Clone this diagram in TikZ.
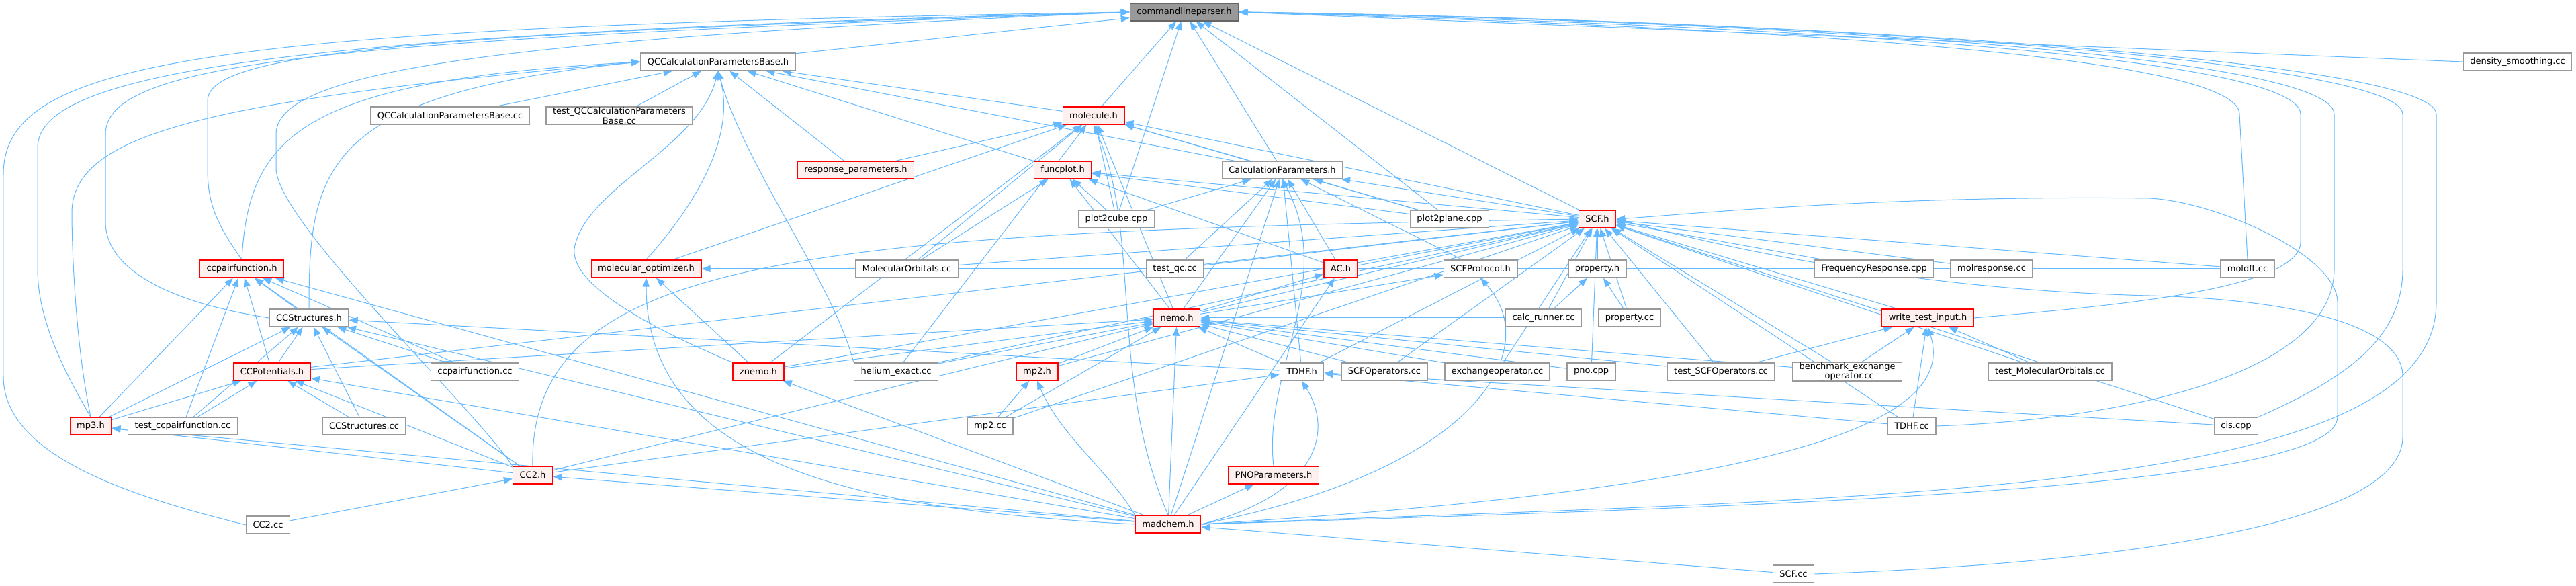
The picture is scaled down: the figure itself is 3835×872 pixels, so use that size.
\documentclass[tikz,border=0pt]{standalone}
\usepackage{fontspec}
\setmainfont{DejaVu Sans}
\usetikzlibrary{arrows.meta,backgrounds}
\definecolor{edgeblue}{HTML}{63B8FF}
\definecolor{hdrfill}{HTML}{FFF0F0}
\definecolor{boxgray}{HTML}{999999}
\definecolor{rootline}{HTML}{666666}

\begin{document}
\begin{tikzpicture}[x=0.1mm, y=-0.1mm,
    file/.style={draw=boxgray, fill=white, line width=0.14mm, inner xsep=1mm, inner ysep=0pt,
      minimum height=2.6mm, font=\fontsize{3.7}{4.2}\selectfont},
    hdr/.style={file, draw=red, fill=hdrfill},
    root/.style={file, draw=rootline, fill=boxgray},
    edge/.style={-{Triangle[length=1.3mm, width=1mm]}, draw=edgeblue, line width=0.1mm}
  ]
    \useasboundingbox (0,0) rectangle (3835,872);

    \node[root] (clp) at (1763,18) {commandlineparser.h};
    \node[file] (qcb) at (1069,92) {QCCalculationParametersBase.h};
    \node[file] (dens) at (3748,92) {density\_smoothing.cc};
    \node[file] (qcbcc) at (670,172) {QCCalculationParametersBase.cc};
    \node[file, align=center] (tqcb) at (922,172) {test\_QCCalculationParameters\\Base.cc};
    \node[hdr] (mol) at (1628,172) {molecule.h};
    \node[hdr] (resp) at (1274,253) {response\_parameters.h};
    \node[hdr] (fplot) at (1582,253) {funcplot.h};
    \node[file] (calc) at (1909,253) {CalculationParameters.h};
    \node[file] (p2c) at (1662,326) {plot2cube.cpp};
    \node[file] (p2p) at (2158,326) {plot2plane.cpp};
    \node[hdr] (scf) at (2378,326) {SCF.h};
    \node[hdr] (ccpf) at (360,400) {ccpairfunction.h};
    \node[hdr] (molopt) at (962,400) {molecular\_optimizer.h};
    \node[file] (moorb) at (1350,400) {MolecularOrbitals.cc};
    \node[file] (tqc) at (1749,400) {test\_qc.cc};
    \node[hdr] (ac) at (1996,400) {AC.h};
    \node[file] (scfp) at (2204,400) {SCFProtocol.h};
    \node[file] (prop) at (2378,400) {property.h};
    \node[file] (freq) at (2790,400) {FrequencyResponse.cpp};
    \node[file] (molr) at (2965,400) {molresponse.cc};
    \node[file] (moldft) at (3346,400) {moldft.cc};
    \node[file] (ccs) at (460,473) {CCStructures.h};
    \node[hdr] (nemo) at (1752,473) {nemo.h};
    \node[file] (crun) at (2298,473) {calc\_runner.cc};
    \node[file] (propcc) at (2426,473) {property.cc};
    \node[hdr] (wti) at (2870,473) {write\_test\_input.h};
    \node[hdr] (ccpot) at (405,553) {CCPotentials.h};
    \node[file] (ccpfcc) at (707,553) {ccpairfunction.cc};
    \node[hdr] (znemo) at (1129,553) {znemo.h};
    \node[file] (he) at (1334,553) {helium\_exact.cc};
    \node[hdr] (mp2) at (1544,553) {mp2.h};
    \node[file] (tdhf) at (1938,553) {TDHF.h};
    \node[file] (scfop) at (2061,553) {SCFOperators.cc};
    \node[file] (exop) at (2229,553) {exchangeoperator.cc};
    \node[file] (pno) at (2369,553) {pno.cpp};
    \node[file] (tscfop) at (2562,553) {test\_SCFOperators.cc};
    \node[file, align=center] (bench) at (2750,553) {benchmark\_exchange\\\_operator.cc};
    \node[file] (tmo) at (3052,553) {test\_MolecularOrbitals.cc};
    \node[hdr] (mp3) at (135,634) {mp3.h};
    \node[file] (tccpf) at (272,634) {test\_ccpairfunction.cc};
    \node[file] (ccscc) at (542,634) {CCStructures.cc};
    \node[file] (mp2cc) at (1474,634) {mp2.cc};
    \node[file] (tdhfcc) at (2846,634) {TDHF.cc};
    \node[file] (cis) at (3329,634) {cis.cpp};
    \node[hdr] (cc2) at (793,707) {CC2.h};
    \node[hdr] (pnop) at (1896,707) {PNOParameters.h};
    \node[file] (cc2cc) at (399,781) {CC2.cc};
    \node[hdr] (madchem) at (1739,780) {madchem.h};
    \node[file] (scfcc) at (2670,854) {SCF.cc};

    \begin{pgfonlayer}{background}
    \draw[edge] (qcb) -- (clp);
    \draw[edge] (mol) -- (clp);
    \draw[edge] (calc) -- (clp);
    \draw[edge] (scf) -- (clp);
    \draw[edge] (p2c) -- (clp);
    \draw[edge] (p2p) -- (clp);
    \draw[edge] (dens.west) -- (clp.east);
    \draw[edge] (cc2cc.west) .. controls (200,740) and (5,680) .. (5,560) -- (5,260) .. controls (5,90) and (300,40) .. (clp.west);
    \draw[edge] (mp3.north) .. controls (100,560) and (56,480) .. (56,400) -- (56,220) .. controls (56,110) and (400,50) .. (clp.west);
    \draw[edge] (ccs.west) .. controls (250,450) and (157,400) .. (157,330) -- (157,200) .. controls (157,90) and (500,60) .. (clp.west);
    \draw[edge] (ccpf.north) .. controls (320,330) and (309,300) .. (309,250) -- (309,150) .. controls (309,80) and (600,50) .. (clp.west);
    \draw[edge] (cc2.north west) .. controls (700,600) and (411,330) .. (411,250) -- (411,200) .. controls (411,110) and (700,60) .. (clp.west);
    \draw[edge] (moldft.north) -- (3334,170) .. controls (3334,80) and (2600,40) .. (clp.east);
    \draw[edge] (wti.east) .. controls (3150,455) and (3425,430) .. (3425,360) -- (3425,170) .. controls (3425,80) and (2600,35) .. (clp.east);
    \draw[edge] (tdhfcc.east) .. controls (3150,625) and (3475,560) .. (3475,400) -- (3475,170) .. controls (3475,80) and (2600,30) .. (clp.east);
    \draw[edge] (cis.north east) .. controls (3500,560) and (3577,500) .. (3577,400) -- (3577,170) .. controls (3577,90) and (2700,30) .. (clp.east);
    \draw[edge] (madchem.east) .. controls (2800,740) and (3627,740) .. (3627,450) -- (3627,170) .. controls (3627,90) and (2700,30) .. (clp.east);

    \draw[edge] (qcbcc) -- (qcb);
    \draw[edge] (tqcb) -- (qcb);
    \draw[edge] (resp) -- (qcb);
    \draw[edge] (calc) -- (qcb);
    \draw[edge] (mol) -- (qcb);
    \draw[edge] (fplot) -- (qcb);
    \draw[edge] (molopt.north) .. controls (1040,300) and (1095,200) .. (qcb.south);
    \draw[edge] (znemo.north west) .. controls (950,480) and (850,420) .. (855,370) .. controls (870,280) and (1040,220) .. (qcb.south);
    \draw[edge] (he.north west) .. controls (1240,420) and (1110,250) .. (qcb.south);
    \draw[edge] (ccpf.north) .. controls (370,200) and (450,120) .. (qcb.west);
    \draw[edge] (ccs.north) .. controls (460,250) and (480,140) .. (qcb.west);
    \draw[edge] (mp3.north) .. controls (110,500) and (107,350) .. (107,317) .. controls (107,200) and (300,150) .. (qcb.west);

    \draw[edge] (resp) -- (mol);
    \draw[edge] (molopt) -- (mol);
    \draw[edge] (moorb) -- (mol);
    \draw[edge] (znemo) -- (mol);
    \draw[edge] (p2c) -- (mol);
    \draw[edge] (calc) -- (mol);
    \draw[edge] (scf) -- (mol);
    \draw[edge] (p2p) -- (mol);
    \draw[edge] (nemo) -- (mol);
    \draw[edge] (he) -- (mol);
    \draw[edge] (madchem.north) .. controls (1650,560) and (1700,350) .. (mol.south);

    \draw[edge] (moorb) -- (fplot);
    \draw[edge] (p2c) -- (fplot);
    \draw[edge] (nemo) -- (fplot);
    \draw[edge] (ac) -- (fplot);
    \draw[edge] (p2p) -- (fplot);
    \draw[edge] (scf) -- (fplot);

    \draw[edge] (p2c) -- (calc);
    \draw[edge] (tqc) -- (calc);
    \draw[edge] (scf) -- (calc);
    \draw[edge] (p2p) -- (calc);
    \draw[edge] (scfp) -- (calc);
    \draw[edge] (nemo) -- (calc);
    \draw[edge] (ac) -- (calc);
    \draw[edge] (madchem) -- (calc);
    \draw[edge] (pnop.north) .. controls (1880,550) and (1990,420) .. (calc.south);
    \draw[edge] (tdhf) -- (calc);

    \draw[edge] (ac) -- (scf);
    \draw[edge] (moorb) -- (scf);
    \draw[edge] (he) -- (scf);
    \draw[edge] (znemo) -- (scf);
    \draw[edge] (mp2) -- (scf);
    \draw[edge] (mp2cc) -- (scf);
    \draw[edge] (ccpot) -- (scf);
    \draw[edge] (prop) -- (scf);
    \draw[edge] (crun) -- (scf);
    \draw[edge] (propcc) -- (scf);
    \draw[edge] (freq) -- (scf);
    \draw[edge] (molr) -- (scf);
    \draw[edge] (moldft) -- (scf);
    \draw[edge] (wti) -- (scf);
    \draw[edge] (tmo) -- (scf);
    \draw[edge] (tdhf) -- (scf);
    \draw[edge] (tdhfcc) -- (scf);
    \draw[edge] (cis) -- (scf);
    \draw[edge] (pno) -- (scf);
    \draw[edge] (exop) -- (scf);
    \draw[edge] (tscfop) -- (scf);
    \draw[edge] (bench) -- (scf);
    \draw[edge] (scfop) -- (scf);
    \draw[edge] (nemo) -- (scf);
    \draw[edge] (tqc) -- (scf);
    \draw[edge] (cc2.north) .. controls (787,380) and (1200,345) .. (scf.west);
    \draw[edge] (scfcc.east) .. controls (3100,840) and (3577,790) .. (3577,650) -- (3577,560) .. controls (3577,480) and (3400,445) .. (3200,440) .. controls (2800,430) and (2500,350) .. (scf.east);
    \draw[edge] (madchem.east) .. controls (2800,750) and (3480,720) .. (3480,620) -- (3480,450) .. controls (3480,380) and (3300,300) .. (3200,295) .. controls (2800,290) and (2500,320) .. (scf.east);

    \draw[edge] (nemo) -- (ac);
    \draw[edge] (madchem) -- (ac);
    \draw[edge] (nemo) -- (scfp);
    \draw[edge] (madchem.east) .. controls (2200,700) and (2300,520) .. (scfp.south);
    \draw[edge] (crun) -- (prop);
    \draw[edge] (propcc) -- (prop);

    \draw[edge] (znemo) -- (nemo);
    \draw[edge] (he) -- (nemo);
    \draw[edge] (mp2) -- (nemo);
    \draw[edge] (mp2cc) -- (nemo);
    \draw[edge] (cc2) -- (nemo);
    \draw[edge] (madchem) -- (nemo);
    \draw[edge] (tdhf) -- (nemo);
    \draw[edge] (scfop) -- (nemo);
    \draw[edge] (exop) -- (nemo);
    \draw[edge] (pno) -- (nemo);
    \draw[edge] (tscfop) -- (nemo);
    \draw[edge] (bench) -- (nemo);
    \draw[edge] (ccpot) -- (nemo);
    \draw[edge] (crun) -- (nemo);

    \draw[edge] (tscfop) -- (wti);
    \draw[edge] (bench) -- (wti);
    \draw[edge] (tdhfcc) -- (wti);
    \draw[edge] (tmo) -- (wti);
    \draw[edge] (madchem.east) .. controls (2600,730) and (2920,640) .. (wti.south);

    \draw[edge] (madchem) -- (znemo);
    \draw[edge] (mp2cc) -- (mp2);
    \draw[edge] (madchem.north west) .. controls (1650,700) and (1580,650) .. (mp2.south);
    \draw[edge] (tdhfcc) -- (tdhf);
    \draw[edge] (cis) -- (tdhf);
    \draw[edge] (cc2) -- (tdhf);
    \draw[edge] (madchem.east) .. controls (1950,740) and (1990,650) .. (tdhf.south);
    \draw[edge] (madchem) -- (pnop);
    \draw[edge] (cc2cc) -- (cc2);
    \draw[edge] (madchem) -- (cc2);
    \draw[edge] (madchem) -- (mp3);
    \draw[edge] (cc2) -- (mp3);

    \draw[edge] (mp3) -- (ccpot);
    \draw[edge] (tccpf) -- (ccpot);
    \draw[edge] (ccscc) -- (ccpot);
    \draw[edge] (cc2) -- (ccpot);
    \draw[edge] (madchem) -- (ccpot);

    \draw[edge] (ccpot) -- (ccs);
    \draw[edge] (mp3) -- (ccs);
    \draw[edge] (tccpf) -- (ccs);
    \draw[edge] (ccscc) -- (ccs);
    \draw[edge] (cc2) -- (ccs);
    \draw[edge] (madchem) -- (ccs);
    \draw[edge] (ccpfcc) -- (ccs);
    \draw[edge] (tdhf) -- (ccs);

    \draw[edge] (ccs) -- (ccpf);
    \draw[edge] (mp3) -- (ccpf);
    \draw[edge] (tccpf) -- (ccpf);
    \draw[edge] (ccpot) -- (ccpf);
    \draw[edge] (ccpfcc) -- (ccpf);
    \draw[edge] (cc2) -- (ccpf);
    \draw[edge] (madchem) -- (ccpf);

    \draw[edge] (znemo) -- (molopt);
    \draw[edge] (moldft) -- (molopt);
    \draw[edge] (madchem.west) .. controls (1300,760) and (962,700) .. (molopt.south);
    \draw[edge] (scfcc) -- (madchem);
    \end{pgfonlayer}
\end{tikzpicture}
\end{document}
